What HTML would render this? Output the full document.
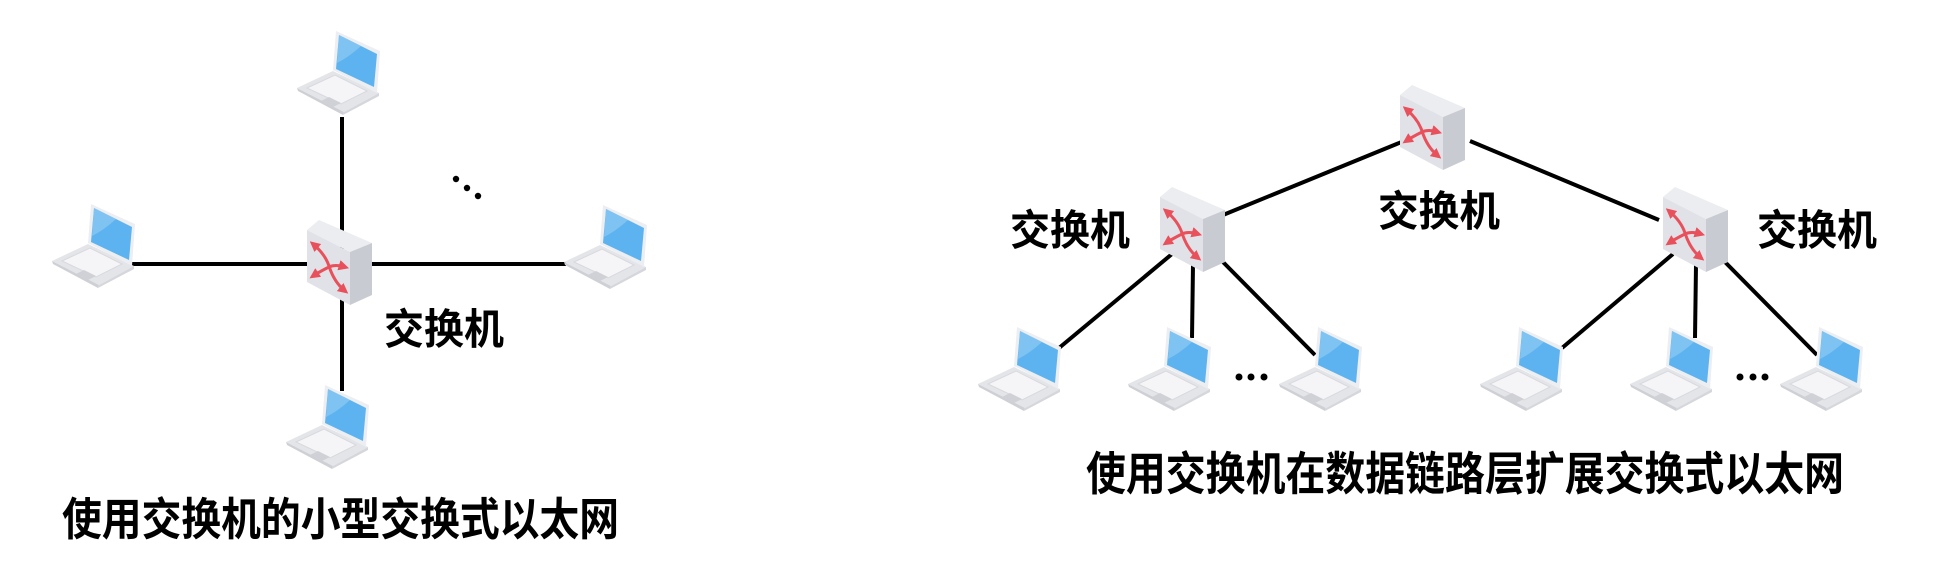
<!DOCTYPE html>
<html><head><meta charset="utf-8"><style>
html,body{margin:0;padding:0;background:#fff;}
svg{display:block;}
text{font-family:"Liberation Sans","Noto Sans CJK SC",sans-serif;font-weight:bold;fill:#000;}
</style></head><body>
<svg width="1946" height="586" viewBox="0 0 1946 586" xmlns="http://www.w3.org/2000/svg">
<defs>
<g id="lap">
  <polygon points="0,55 36,38 82,60 47,79" fill="#e4e5e9"/>
  <polygon points="0,55 47,79 46,82 1,58" fill="#cfd0d5"/>
  <polygon points="47,79 82,60 82,63 46,82" fill="#d6d7dc"/>
  <polygon points="10,55 38,42 70,58 44,71" fill="#f5f5f7" stroke="#d8d9de" stroke-width="1"/>
  <polygon points="24,68 32,64 44,70 36,74" fill="#d0d1d6"/>
  <polygon points="39,-2 83,18 80,60 36,37" fill="#eceef1"/>
  <polygon points="42,2 80,21 77,54 39,36" fill="#5db3ef"/>
  <path d="M42,2 L64,13 Q52,24 40,30 Z" fill="#8fcbf4" opacity="0.7"/>
</g>
<marker id="ah" viewBox="0 0 10 10" refX="6" refY="5" markerWidth="3.5" markerHeight="3.5" orient="auto-start-reverse"><path d="M0,0 L10,5 L0,10 Z" fill="#e8505b"/></marker>
<g id="sw">
  <polygon points="0,10 12,0 65,23 43,32" fill="#ecedf0"/>
  <polygon points="0,10 43,32 43,85 0,62" fill="#e1e2e7"/>
  <polygon points="43,32 65,23 65,75 43,85" fill="#c9cbd2"/>
  <path d="M6,24 Q18,34 22,46 Q27,62 38,71" stroke="#e8505b" stroke-width="3" fill="none" marker-end="url(#ah)" marker-start="url(#ah)"/>
  <path d="M38,47 Q28,44 22,47 Q12,52 6,56" stroke="#e8505b" stroke-width="3" fill="none" marker-end="url(#ah)" marker-start="url(#ah)"/>
</g>
</defs>
<g stroke="#000" stroke-width="4" fill="none">
  <line x1="342" y1="117" x2="342" y2="391"/>
  <line x1="131" y1="264" x2="566" y2="264"/>
  <line x1="1404" y1="141" x2="1223" y2="215"/>
  <line x1="1470" y1="141" x2="1659" y2="220"/>
  <line x1="1172" y1="254" x2="1059" y2="348"/>
  <line x1="1193" y1="265" x2="1192" y2="338"/>
  <line x1="1220" y1="259" x2="1315" y2="355"/>
  <line x1="1673" y1="254" x2="1562" y2="348"/>
  <line x1="1696" y1="265" x2="1695" y2="338"/>
  <line x1="1722" y1="259" x2="1817" y2="355"/>
</g>
<use href="#sw" x="307" y="220"/>
<use href="#sw" x="1400" y="85"/>
<use href="#sw" x="1160" y="187"/>
<use href="#sw" x="1663" y="187"/>
<use href="#lap" x="297" y="33"/>
<use href="#lap" x="52" y="206"/>
<use href="#lap" x="564" y="207"/>
<use href="#lap" x="286" y="387"/>
<use href="#lap" x="978" y="329"/>
<use href="#lap" x="1128" y="329"/>
<use href="#lap" x="1279" y="329"/>
<use href="#lap" x="1480" y="329"/>
<use href="#lap" x="1630" y="329"/>
<use href="#lap" x="1780" y="329"/>
<g fill="#000">
  <circle cx="456" cy="179" r="3.2"/><circle cx="467" cy="188" r="3.2"/><circle cx="478" cy="196" r="3.2"/>
  <circle cx="1239" cy="377" r="3.5"/><circle cx="1251" cy="377" r="3.5"/><circle cx="1264" cy="377" r="3.5"/>
  <circle cx="1740" cy="377" r="3.5"/><circle cx="1753" cy="377" r="3.5"/><circle cx="1765" cy="377" r="3.5"/>
</g>
<text x="384" y="344" font-size="42" textLength="120" lengthAdjust="spacingAndGlyphs">交换机</text>
<text x="62" y="535" font-size="45" textLength="557" lengthAdjust="spacingAndGlyphs">使用交换机的小型交换式以太网</text>
<text x="1010" y="245" font-size="42" textLength="120" lengthAdjust="spacingAndGlyphs">交换机</text>
<text x="1378" y="226" font-size="42" textLength="122" lengthAdjust="spacingAndGlyphs">交换机</text>
<text x="1757" y="245" font-size="42" textLength="120" lengthAdjust="spacingAndGlyphs">交换机</text>
<text x="1086" y="490" font-size="46" textLength="758" lengthAdjust="spacingAndGlyphs">使用交换机在数据链路层扩展交换式以太网</text>
</svg>
</body></html>
